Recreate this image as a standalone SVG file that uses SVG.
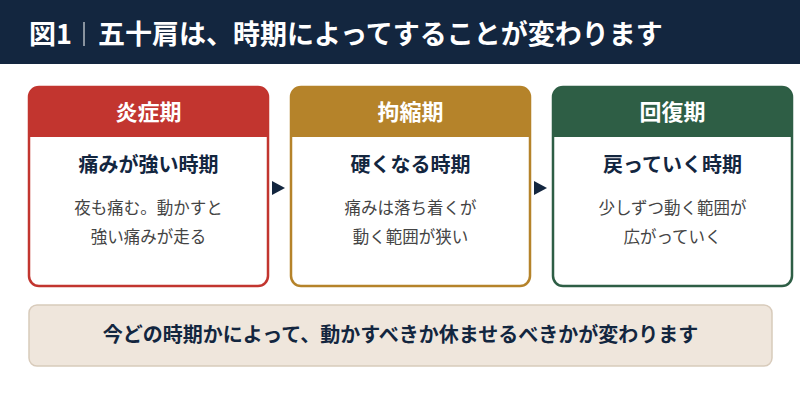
<svg xmlns="http://www.w3.org/2000/svg" width="800" height="400" viewBox="0 0 800 400">
<style>
text{font-family:"Noto Sans CJK JP","Noto Sans",sans-serif;}
.hd{fill:#fff;font-weight:700;font-size:27px;}
.ct{fill:#fff;font-weight:700;font-size:22px;text-anchor:middle;}
.st{fill:#13263f;font-weight:700;font-size:20px;text-anchor:middle;}
.ds{fill:#444;font-size:16.5px;text-anchor:middle;}
.card{fill:#fff;stroke-width:2.5;}
.arr{fill:#13263f;}
</style>
<rect x="0" y="0" width="800" height="400" fill="#fff"/>
<g id="header">
<rect x="0" y="0" width="800" height="64" fill="#13263f"/>
<text class="hd" x="29" y="44">図1</text>
<line x1="84" y1="22" x2="84" y2="46" stroke="#fff" stroke-width="1"/>
<text class="hd" x="98" y="44">五十肩は、時期によってすることが変わります</text>
</g>
<g id="card1">
<rect class="card" x="29" y="87" width="239" height="199" rx="10" stroke="#c2352f"/>
<path d="M29,137 V97 a10,10 0 0 1 10,-10 H258 a10,10 0 0 1 10,10 V137 Z" fill="#c2352f"/>
<text class="ct" x="148.5" y="120">炎症期</text>
<text class="st" x="148.5" y="172">痛みが強い時期</text>
<text class="ds" x="148.5" y="214">夜も痛む。動かすと</text>
<text class="ds" x="148.5" y="243">強い痛みが走る</text>
</g>
<g id="card2">
<rect class="card" x="291" y="87" width="239" height="199" rx="10" stroke="#b5832a"/>
<path d="M291,137 V97 a10,10 0 0 1 10,-10 H520 a10,10 0 0 1 10,10 V137 Z" fill="#b5832a"/>
<text class="ct" x="410.5" y="120">拘縮期</text>
<text class="st" x="410.5" y="172">硬くなる時期</text>
<text class="ds" x="410.5" y="214">痛みは落ち着くが</text>
<text class="ds" x="410.5" y="243">動く範囲が狭い</text>
</g>
<g id="card3">
<rect class="card" x="553" y="87" width="239" height="199" rx="10" stroke="#2e5e45"/>
<path d="M553,137 V97 a10,10 0 0 1 10,-10 H782 a10,10 0 0 1 10,10 V137 Z" fill="#2e5e45"/>
<text class="ct" x="672.5" y="120">回復期</text>
<text class="st" x="672.5" y="172">戻っていく時期</text>
<text class="ds" x="672.5" y="214">少しずつ動く範囲が</text>
<text class="ds" x="672.5" y="243">広がっていく</text>
</g>
<g id="connectors">
<polygon class="arr" points="272,181 285,188 272,195"/>
<polygon class="arr" points="534,181 547,188 534,195"/>
</g>
<g id="note">
<rect x="29" y="305" width="743" height="61" rx="8" fill="#efe6dc" stroke="#d8cbbb" stroke-width="1.5"/>
<text x="400.5" y="342" fill="#13263f" font-weight="700" font-size="20" text-anchor="middle">今どの時期かによって、動かすべきか休ませるべきかが変わります</text>
</g>
</svg>
